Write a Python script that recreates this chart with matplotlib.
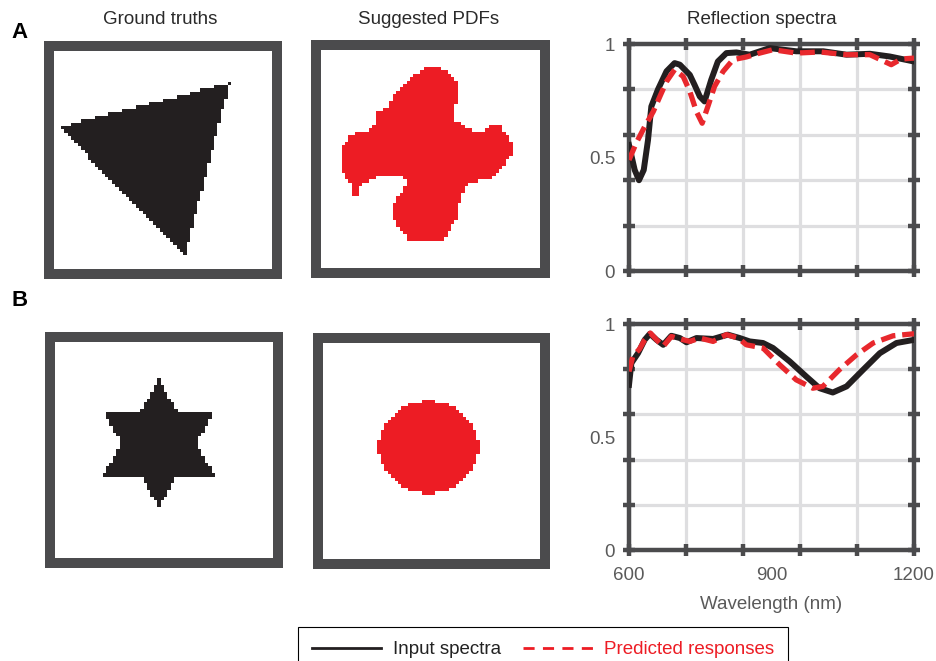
import numpy as np
import matplotlib.pyplot as plt
from matplotlib.path import Path
from matplotlib.colors import ListedColormap
from matplotlib.lines import Line2D

plt.rcParams['font.family'] = ['Liberation Sans', 'DejaVu Sans']

# ---- shapes, in pixel units of a 64x64 design grid ----
GRID = 64
triangle_xy = [(1.5, 22.3), (51.6, 9.4), (38.4, 60.1)]
blob_xy = [(31.3, 4.7), (33.9, 4.7), (36.8, 6.7), (39.2, 8.8), (40.1, 10.3),
           (39.8, 15.2), (38.6, 17.6), (38.6, 20.5), (41.5, 22.0), (43.6, 23.5),
           (47.1, 24.0), (50.0, 22.0), (52.9, 22.0), (53.8, 24.3), (55.8, 27.0),
           (55.8, 30.8), (54.4, 32.3), (52.3, 35.2), (50.3, 37.2), (48.0, 38.1),
           (44.4, 38.7), (42.1, 40.2), (40.6, 44.0), (40.1, 49.0), (37.7, 52.2),
           (36.3, 55.7), (26.0, 56.3), (23.1, 52.8), (21.1, 49.9), (20.8, 46.9),
           (22.5, 43.4), (24.0, 41.1), (25.4, 38.7), (23.7, 36.7), (19.6, 36.7),
           (16.4, 37.5), (13.5, 38.7), (11.4, 40.2), (10.8, 43.1), (9.4, 43.4),
           (9.1, 40.2), (7.6, 38.1), (6.1, 35.2), (6.1, 28.7), (8.5, 25.5),
           (10.8, 24.0), (13.7, 23.5), (15.8, 21.4), (15.8, 18.2), (19.3, 17.0),
           (20.8, 14.1), (23.7, 10.9), (26.0, 8.8), (28.4, 6.7)]
star_center = (30.5, 30.2)
star_outer = 18.8
star_inner = 10.9
disc_center = (31.0, 31.0)
disc_radii = (14.6, 13.6)

# ---- reflection spectra ----
wl_a_in = [600, 612, 621, 631, 640, 647, 661, 679, 696, 707, 728, 738, 749, 759,
           773, 787, 805, 826, 854, 896, 952, 1009, 1058, 1107, 1149, 1200]
refl_a_in = [0.555, 0.445, 0.40, 0.445, 0.577, 0.725, 0.80, 0.88, 0.916, 0.909,
             0.864, 0.82, 0.769, 0.747, 0.842, 0.923, 0.96, 0.963, 0.953, 0.982,
             0.968, 0.968, 0.953, 0.957, 0.945, 0.923]
wl_a_pred = [600, 615, 633, 651, 665, 679, 696, 714, 728, 742, 754, 766, 780, 798,
             819, 847, 875, 903, 952, 1002, 1058, 1107, 1152, 1173, 1200]
refl_a_pred = [0.489, 0.563, 0.636, 0.702, 0.769, 0.835, 0.887, 0.857, 0.791,
               0.702, 0.651, 0.725, 0.813, 0.879, 0.931, 0.943, 0.96, 0.975,
               0.96, 0.965, 0.953, 0.953, 0.909, 0.934, 0.938]
wl_b_in = [600, 605, 619, 633, 644, 658, 672, 689, 707, 721, 742, 777, 808, 833,
           854, 882, 903, 938, 973, 1001, 1029, 1058, 1093, 1128, 1163, 1200]
refl_b_in = [0.731, 0.827, 0.871, 0.93, 0.957, 0.93, 0.908, 0.948, 0.938, 0.919,
             0.938, 0.934, 0.953, 0.938, 0.923, 0.916, 0.894, 0.835, 0.768,
             0.716, 0.697, 0.724, 0.798, 0.871, 0.916, 0.93]
wl_b_pred = [600, 608, 622, 633, 645, 659, 672, 689, 707, 728, 749, 777, 805, 830,
             847, 882, 917, 952, 987, 1008, 1043, 1079, 1114, 1156, 1200]
refl_b_pred = [0.79, 0.857, 0.889, 0.93, 0.96, 0.928, 0.901, 0.945, 0.934, 0.923,
               0.938, 0.923, 0.953, 0.938, 0.908, 0.894, 0.82, 0.753, 0.716,
               0.724, 0.798, 0.864, 0.916, 0.948, 0.957]

titles = ["Ground truths", "Suggested PDFs", "Reflection spectra"]
legend_labels = ["Input spectra", "Predicted responses"]

BLACK = "#231f20"
RED = "#ed1c24"
FRAME = "#4b4b4d"
TICKGREY = "#5a5a5a"


def cell_centers():
    yy, xx = np.mgrid[0:GRID, 0:GRID] + 0.5
    return np.column_stack([xx.ravel(), yy.ravel()])


def polygon_mask(verts):
    return Path(verts).contains_points(cell_centers()).reshape(GRID, GRID)


def star_mask(center, r_out, r_in):
    verts = []
    for k in range(12):
        ang = np.deg2rad(-90 + 30 * k)
        r = r_out if k % 2 == 0 else r_in
        verts.append((center[0] + r * np.cos(ang), center[1] + r * np.sin(ang)))
    return polygon_mask(verts)


def disc_mask(center, radii):
    p = cell_centers()
    d = ((p[:, 0] - center[0]) / radii[0]) ** 2 + ((p[:, 1] - center[1]) / radii[1]) ** 2
    return (d <= 1).reshape(GRID, GRID)


def shape_panel(fig, rect, mask, color):
    ax = fig.add_axes(rect)
    cmap = ListedColormap(["white", color])
    ax.imshow(mask.astype(float), cmap=cmap, vmin=0, vmax=1, extent=(0, GRID, GRID, 0),
              interpolation="nearest", aspect="auto")
    ax.set_xlim(-1.47, GRID + 1.47)
    ax.set_ylim(GRID + 1.47, -1.47)
    ax.set_xticks([])
    ax.set_yticks([])
    for s in ax.spines.values():
        s.set_linewidth(7.2)
        s.set_color(FRAME)
    return ax


def spectra_panel(fig, rect, wl_in, r_in, wl_pred, r_pred, show_x):
    ax = fig.add_axes(rect)
    ax.plot(wl_in, r_in, color=BLACK, lw=4.3, solid_joinstyle="round", zorder=3)
    ax.plot(wl_pred, r_pred, color="#e8282d", lw=3.8, ls=(0, (2.8, 1.3)), zorder=4)
    ax.set_xlim(600, 1200)
    ax.set_ylim(0, 1)
    ax.set_yticks(np.linspace(0, 1, 6))
    ax.set_yticklabels(["0", "", "", "", "", "1"])
    ax.set_yticks([0.5], minor=True)
    ax.set_yticklabels(["0.5"], minor=True)
    ax.set_xticks(np.arange(600, 1201, 120))
    ax.set_xticks([900], minor=True)
    if show_x:
        ax.set_xticklabels(["600", "", "", "", "", "1200"])
        ax.set_xticklabels(["900"], minor=True)
        ax.set_xlabel("Wavelength (nm)", fontsize=13.5, color=TICKGREY, labelpad=8.5)
    else:
        ax.set_xticklabels([])
        ax.set_xticklabels([], minor=True)
    ax.grid(which="major", color="#dedee0", lw=2.3, zorder=0)
    ax.set_axisbelow(True)
    ax.tick_params(which="major", direction="inout", length=8, width=3.2, color=FRAME,
                   top=True, right=True, labelsize=13.5, labelcolor=TICKGREY)
    ax.tick_params(which="minor", length=0, top=False, right=False, labelsize=13.5,
                   labelcolor=TICKGREY)
    ax.tick_params(axis="y", which="major", pad=6)
    ax.tick_params(axis="y", which="minor", pad=10)
    ax.tick_params(axis="x", which="major", pad=8.3)
    ax.tick_params(axis="x", which="minor", pad=12.3)
    for s in ax.spines.values():
        s.set_linewidth(3.2)
        s.set_color(FRAME)
    return ax


fig = plt.figure(figsize=(9.37, 6.61), dpi=100)

shape_panel(fig, [0.0523, 0.5855, 0.2433, 0.3449], polygon_mask(triangle_xy), BLACK)
shape_panel(fig, [0.3372, 0.5870, 0.2444, 0.3449], polygon_mask(blob_xy), RED)
shape_panel(fig, [0.0534, 0.1483, 0.2433, 0.3419],
            star_mask(star_center, star_outer, star_inner), BLACK)
shape_panel(fig, [0.3394, 0.1467, 0.2423, 0.3419], disc_mask(disc_center, disc_radii), RED)

spectra_panel(fig, [0.6713, 0.5900, 0.3042, 0.3434], wl_a_in, refl_a_in,
              wl_a_pred, refl_a_pred, False)
spectra_panel(fig, [0.6713, 0.1679, 0.3042, 0.3419], wl_b_in, refl_b_in,
              wl_b_pred, refl_b_pred, True)

for x, t in zip([160, 429, 762], titles):
    fig.text(x / 937, 1 - 19 / 661, t, ha="center", va="center", fontsize=13.5, color="#2a2a2a")
fig.text(20 / 937, 1 - 32 / 661, "A", ha="center", va="center", fontsize=16, fontweight="bold")
fig.text(20 / 937, 1 - 300 / 661, "B", ha="center", va="center", fontsize=16, fontweight="bold")

handles = [Line2D([], [], color=BLACK, lw=2),
           Line2D([], [], color=RED, lw=2, ls=(0, (4, 3)))]
leg = fig.legend(handles, legend_labels, loc="upper center", ncol=2,
                 bbox_to_anchor=(543 / 937, 1 - 627 / 661), borderaxespad=0,
                 fontsize=13.5, handlelength=3.7, handletextpad=0.6, columnspacing=1.2,
                 borderpad=0.75, fancybox=False, framealpha=1)
leg.get_frame().set_edgecolor("black")
leg.get_frame().set_linewidth(0.8)
leg.get_texts()[0].set_color("#222222")
leg.get_texts()[1].set_color(RED)

fig.savefig("out.png", dpi=100)
